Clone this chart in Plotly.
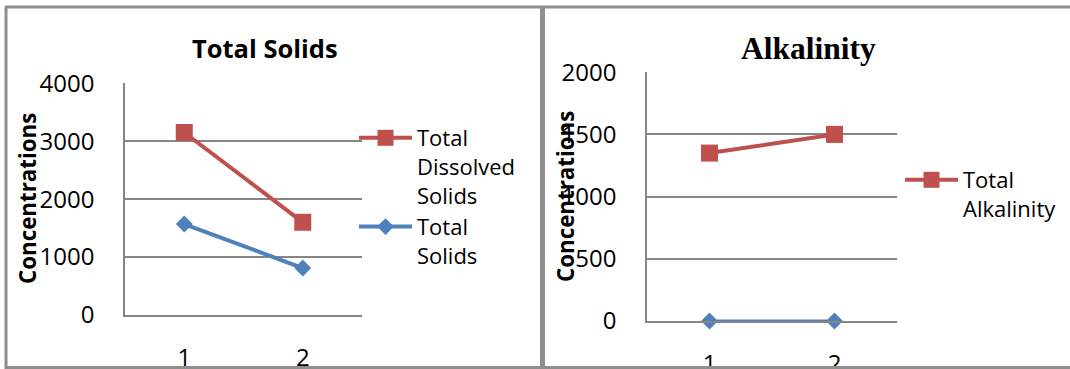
import plotly.graph_objects as go

# ---- data ----
samples = ["1", "2"]
total_dissolved_solids = [3150, 1600]
total_solids = [1570, 810]
total_alkalinity = [1350, 1500]
alkalinity_second = [0, 0]

solids_ticks = [0, 1000, 2000, 3000, 4000]
alk_ticks = [0, 500, 1000, 1500, 2000]

W, H = 1070, 369
RED = "#C0504D"
BLUE = "#4F81BD"
GRID = "#868686"
FRAME = "#8E8E8E"
SANS = "Open Sans"


def px(x):
    return x / W


def py(y):
    return 1 - y / H


fig = go.Figure()

# left chart: solids
fig.add_trace(go.Scatter(
    x=samples, y=total_dissolved_solids, name="Total<br>Dissolved<br>Solids",
    mode="lines+markers", line=dict(color=RED, width=4),
    marker=dict(symbol="square", size=17, color=RED), cliponaxis=False,
    xaxis="x", yaxis="y", legend="legend"))
fig.add_trace(go.Scatter(
    x=samples, y=total_solids, name="Total<br>Solids",
    mode="lines+markers", line=dict(color=BLUE, width=4),
    marker=dict(symbol="diamond", size=13, color=BLUE), cliponaxis=False,
    xaxis="x", yaxis="y", legend="legend"))

# right chart: alkalinity
fig.add_trace(go.Scatter(
    x=samples, y=alkalinity_second, name="Series 1", showlegend=False,
    mode="lines+markers", line=dict(color=BLUE, width=3),
    marker=dict(symbol="diamond", size=13, color=BLUE), cliponaxis=False,
    xaxis="x2", yaxis="y2"))
fig.add_trace(go.Scatter(
    x=samples, y=total_alkalinity, name="Total<br>Alkalinity",
    mode="lines+markers", line=dict(color=RED, width=4),
    marker=dict(symbol="square", size=17, color=RED), cliponaxis=False,
    xaxis="x2", yaxis="y2", legend="legend2"))

tickfont = dict(family=SANS, size=24, color="#000000")

xcommon = dict(type="category", range=[-0.5, 1.5], showgrid=False,
               zeroline=False, showline=True, linecolor=GRID, linewidth=1.5,
               ticks="", automargin=False,
               ticklabelstandoff=20, tickfont=tickfont)
ycommon = dict(showgrid=True, gridcolor=GRID, gridwidth=1.5, zeroline=False,
               showline=True, linecolor=GRID, linewidth=1.5, ticks="",
               automargin=False,
               ticklabelstandoff=24, tickfont=tickfont)

legend_font = dict(family=SANS, size=22, color="#000000")

fig.update_layout(
    width=W, height=H,
    margin=dict(l=0, r=0, t=0, b=0, autoexpand=False),
    paper_bgcolor="white", plot_bgcolor="white",
    xaxis=dict(domain=[px(125), px(362)], anchor="y", **xcommon),
    yaxis=dict(domain=[py(315), py(83)], anchor="x", range=[0, 4004],
               tickvals=solids_ticks, **ycommon),
    xaxis2=dict(domain=[px(647), px(897)], anchor="y2", **xcommon),
    yaxis2=dict(domain=[py(321), py(72)], anchor="x2", range=[0, 2002],
                tickvals=alk_ticks, **ycommon),
    legend=dict(x=px(354), y=py(117), xanchor="left", yanchor="top",
                valign="top", bgcolor="rgba(0,0,0,0)", tracegroupgap=0,
                itemwidth=53, font=legend_font, traceorder="normal"),
    legend2=dict(x=px(900), y=py(159), xanchor="left", yanchor="top",
                 valign="top", bgcolor="rgba(0,0,0,0)",
                 itemwidth=53, font=legend_font),
    showlegend=True,
)

annotations = [
    dict(text="<b>Total Solids</b>", x=px(265), y=py(48),
         font=dict(family=SANS, size=25.5, color="#000000")),
    dict(text="<b>Alkalinity</b>", x=px(808), y=py(48),
         font=dict(family="Liberation Serif", size=31.5, color="#000000")),
    dict(text="<b>Concentrations</b>", x=px(27), y=py(199), textangle=-90,
         font=dict(family=SANS, size=22.3, color="#000000")),
    dict(text="<b>Concentrations</b>", x=px(565), y=py(197), textangle=-90,
         font=dict(family=SANS, size=22.3, color="#000000")),
]
for a in annotations:
    a.update(xref="paper", yref="paper", showarrow=False,
             xanchor="center", yanchor="middle")
fig.update_layout(annotations=annotations)

# outer frames of the two chart panels
frame_lines = [
    (5, 7, W, 7, 3),          # top edge
    (6, 7, 6, H, 3),          # left edge
    (542.5, 7, 542.5, H, 5),  # divider between panels
    (5, 367.5, W, 367.5, 3),  # bottom edge
]
fig.update_layout(shapes=[
    dict(type="line", xref="paper", yref="paper",
         x0=px(x0), y0=py(y0), x1=px(x1), y1=py(y1),
         line=dict(color=FRAME, width=w), layer="above")
    for x0, y0, x1, y1, w in frame_lines
])

fig.write_html("out.html")
